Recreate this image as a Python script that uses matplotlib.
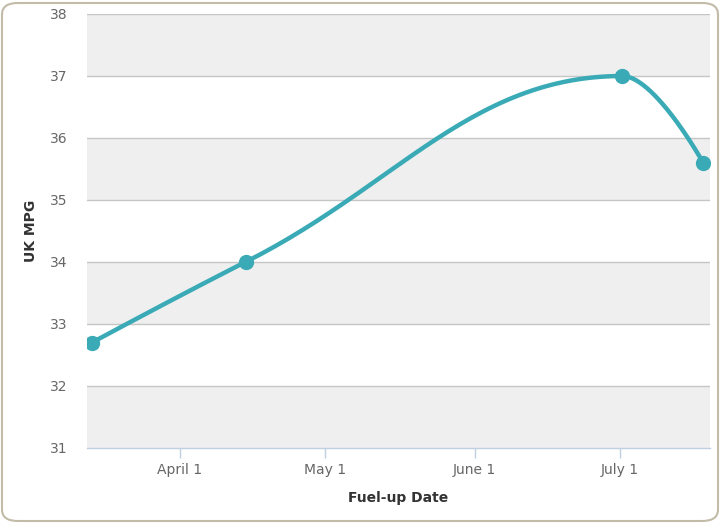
import numpy as np
import pandas as pd
import matplotlib
matplotlib.use('Agg')
import matplotlib.pyplot as plt
import matplotlib.dates as mdates
from matplotlib.patches import FancyBboxPatch

# Fuel-up data
fuel_dates = ['2013-03-13 18:00', '2013-04-14 14:00', '2013-07-01 14:00', '2013-07-18 08:00']
uk_mpg = [32.7, 34.0, 37.0, 35.6]
y_ticks = [31, 32, 33, 34, 35, 36, 37, 38]
x_tick_dates = ['2013-04-01', '2013-05-01', '2013-06-01', '2013-07-01']
x_tick_labels = ['April 1', 'May 1', 'June 1', 'July 1']

LINE_COLOR = '#3aabb6'
BAND_COLOR = '#efefef'
GRID_COLOR = '#c6c6c6'
AXIS_COLOR = '#c0d0e0'


def spline_path(xs, ys, smoothing=1.5, n=60):
    # Highcharts-style spline: control points per point, endpoints unsmoothed
    xs = np.asarray(xs, float)
    ys = np.asarray(ys, float)
    m = len(xs)
    lcx, lcy = xs.copy(), ys.copy()
    rcx, rcy = xs.copy(), ys.copy()
    for i in range(1, m - 1):
        x, y = xs[i], ys[i]
        lx, ly = xs[i - 1], ys[i - 1]
        nx, ny = xs[i + 1], ys[i + 1]
        d = smoothing + 1
        lcx_, lcy_ = (smoothing * x + lx) / d, (smoothing * y + ly) / d
        rcx_, rcy_ = (smoothing * x + nx) / d, (smoothing * y + ny) / d
        corr = (rcy_ - lcy_) * (rcx_ - x) / (rcx_ - lcx_) + y - rcy_
        lcy_ += corr
        rcy_ += corr
        if lcy_ > ly and lcy_ > y:
            lcy_ = max(ly, y)
            rcy_ = 2 * y - lcy_
        elif lcy_ < ly and lcy_ < y:
            lcy_ = min(ly, y)
            rcy_ = 2 * y - lcy_
        if rcy_ > ny and rcy_ > y:
            rcy_ = max(ny, y)
            lcy_ = 2 * y - rcy_
        elif rcy_ < ny and rcy_ < y:
            rcy_ = min(ny, y)
            lcy_ = 2 * y - rcy_
        lcx[i], lcy[i], rcx[i], rcy[i] = lcx_, lcy_, rcx_, rcy_
    t = np.linspace(0, 1, n)[:, None]
    px, py = [], []
    for i in range(m - 1):
        P = np.array([[xs[i], ys[i]], [rcx[i], rcy[i]],
                      [lcx[i + 1], lcy[i + 1]], [xs[i + 1], ys[i + 1]]])
        B = ((1 - t) ** 3) * P[0] + 3 * ((1 - t) ** 2) * t * P[1] \
            + 3 * (1 - t) * t ** 2 * P[2] + t ** 3 * P[3]
        px.extend(B[:, 0])
        py.extend(B[:, 1])
    return np.array(px), np.array(py)


def main():
    W, H = 720, 523
    fig = plt.figure(figsize=(W / 100, H / 100), dpi=100)
    fig.patch.set_facecolor('white')

    # rounded outer border
    border = FancyBboxPatch((2 / W, 2 / H), (W - 4) / W, (H - 5) / H,
                            boxstyle='round,pad=0,rounding_size=0.022',
                            transform=fig.transFigure, facecolor='white',
                            edgecolor='#c2bba8', linewidth=1.5, zorder=-5)
    fig.patches.append(border)

    ax = fig.add_axes([87 / W, 1 - 448 / H, (710 - 87) / W, (448 - 14) / H])
    ax.set_facecolor('none')
    ax.set_zorder(2)

    x = mdates.date2num(pd.to_datetime(fuel_dates))
    xt = mdates.date2num(pd.to_datetime(x_tick_dates))

    # alternating bands + grid
    for lo in y_ticks[:-1]:
        if (lo - y_ticks[0]) % 2 == 0:
            ax.axhspan(lo, lo + 1, color=BAND_COLOR, lw=0, zorder=0)
    for yv in y_ticks[1:]:
        ax.axhline(yv, color=GRID_COLOR, lw=1, zorder=1)

    sx, sy = spline_path(x, uk_mpg)
    ax.plot(sx, sy, color=LINE_COLOR, lw=3.2, solid_capstyle='round', zorder=3)
    ax.plot(x, uk_mpg, 'o', color=LINE_COLOR, markersize=10, zorder=4)

    ax.set_ylim(31, 38)
    ax.set_xlim(x[0] - 1.0, x[-1] + 1.4)

    ax.set_yticks(y_ticks)
    ax.set_yticklabels([str(v) for v in y_ticks])
    ax.set_xticks(xt)
    ax.set_xticklabels(x_tick_labels)

    ax.tick_params(axis='y', length=0, pad=14, labelsize=10, labelcolor='#666666')
    ax.tick_params(axis='x', length=7.5, width=1, color=AXIS_COLOR, pad=3,
                   labelsize=10, labelcolor='#666666')

    for s in ['top', 'right', 'left']:
        ax.spines[s].set_visible(False)
    ax.spines['bottom'].set_color(AXIS_COLOR)
    ax.spines['bottom'].set_linewidth(1)
    ax.spines['bottom'].set_zorder(2)

    ax.set_ylabel('UK MPG', fontsize=10, fontweight='bold', color='#333333')
    ax.yaxis.set_label_coords(-0.079, 0.5)
    ax.set_xlabel('Fuel-up Date', fontsize=10, fontweight='bold', color='#333333')
    ax.xaxis.set_label_coords(0.499, -0.099)

    fig.savefig('out.png', dpi=100)
    plt.close(fig)


if __name__ == '__main__':
    main()
